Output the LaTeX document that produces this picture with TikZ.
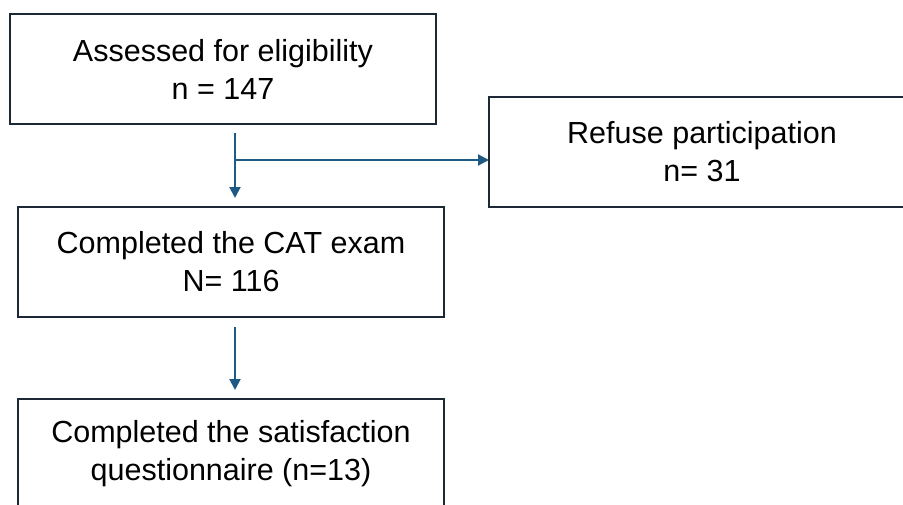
\documentclass[tikz,border=0pt]{standalone}
\usepackage{fontspec}
\setmainfont{Liberation Sans}
\usetikzlibrary{arrows.meta}
\definecolor{boxline}{HTML}{1C2836}
\definecolor{arrowblue}{HTML}{1F5A85}
\tikzset{
  flowbox/.style={draw=boxline, line width=2.4pt, fill=white, inner sep=0pt,
    align=center, font=\fontsize{30.5}{38}\selectfont, text=black},
  flowarrow/.style={draw=arrowblue, line width=2pt, -{Triangle[length=11pt,width=11pt]}}
}
\begin{document}
\begin{tikzpicture}[x=1pt,y=-1pt]
\useasboundingbox (0,0) rectangle (903,504);
\clip (0,0) rectangle (903,504);
\fill[white] (0,0) rectangle (903,504);
\node[flowbox, minimum width=426pt, minimum height=110pt] (assess) at (223,69)
  {Assessed for eligibility\\n = 147};
\node[flowbox, minimum width=426pt, minimum height=110pt] (refuse) at (702,152)
  {Refuse participation\\n= 31};
\node[flowbox, minimum width=426pt, minimum height=110pt] (cat) at (231,262)
  {Completed the CAT exam\\N= 116};
\node[flowbox, minimum width=426pt, minimum height=110pt] (satis) at (231,454)
  {Completed the satisfaction\\questionnaire (n=13)};
\coordinate (s1) at (235,133);
\coordinate (e1) at (235,198);
\coordinate (br) at (235,160);
\coordinate (e2) at (489,160);
\coordinate (s3) at (235,327);
\coordinate (e3) at (235,390);
\draw[flowarrow] (s1) -- (e1);
\draw[flowarrow] (br) -- (e2);
\draw[flowarrow] (s3) -- (e3);
\end{tikzpicture}
\end{document}
